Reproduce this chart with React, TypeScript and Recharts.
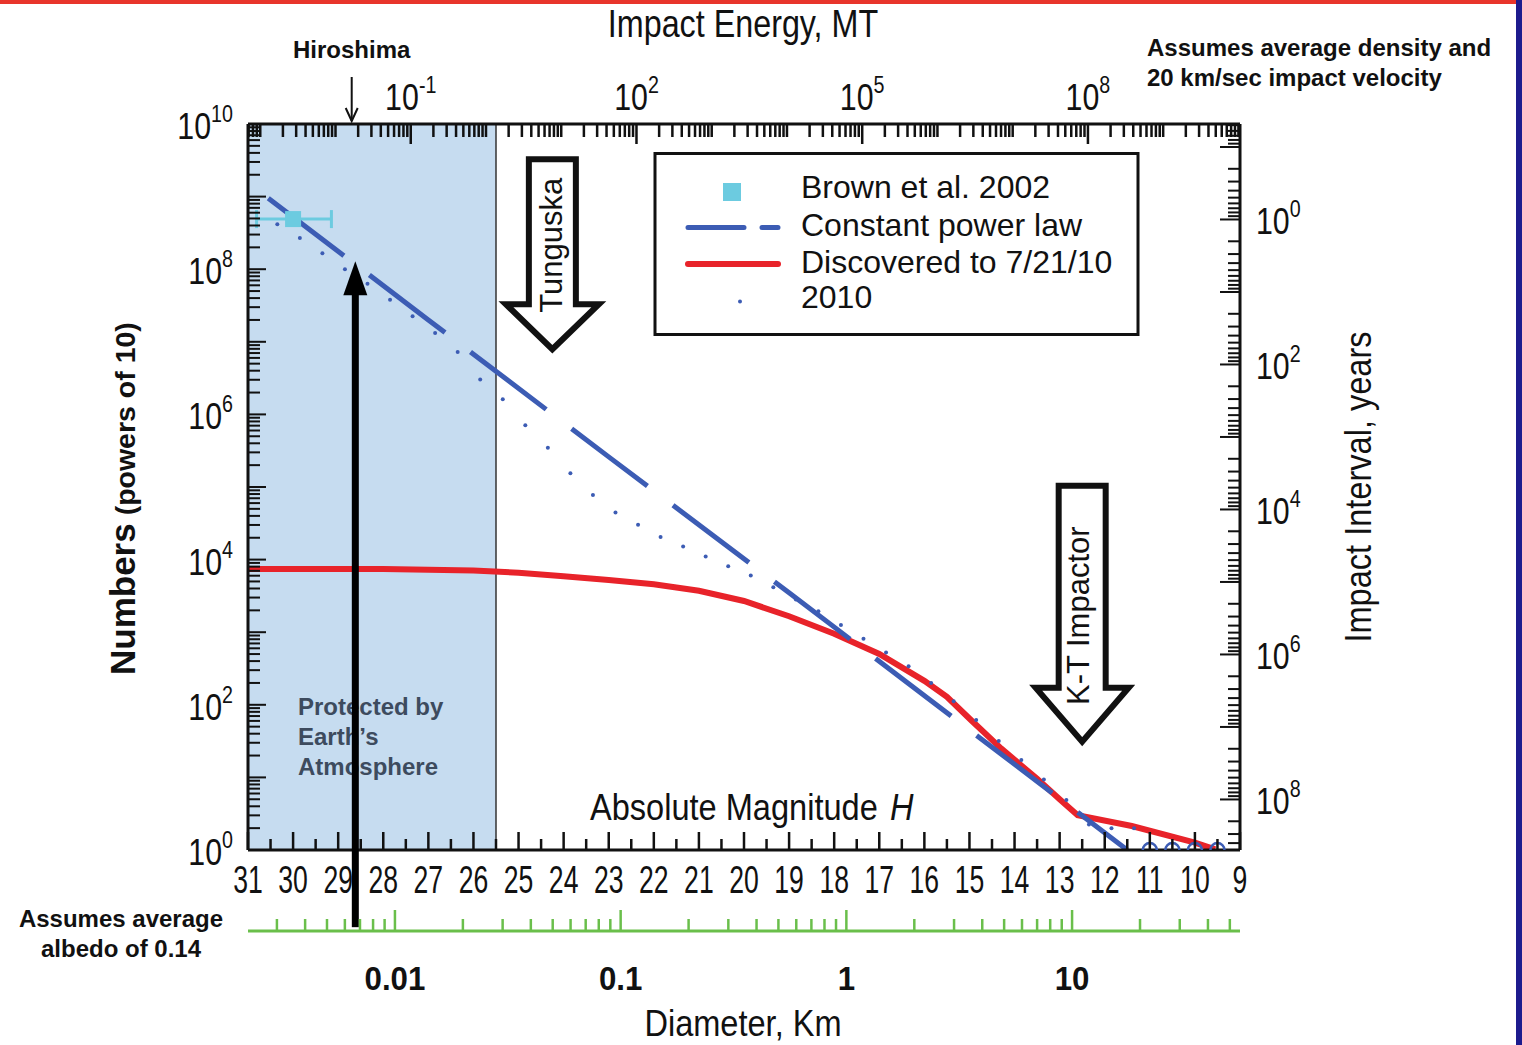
import React from 'react';
import {
  ComposedChart,
  Line,
  Scatter,
  XAxis,
  YAxis,
  ErrorBar,
  ReferenceArea,
  ReferenceLine,
  ReferenceDot,
} from 'recharts';

// absolute magnitude H (x) vs cumulative numbers N (y)
const powerLawH = [30.55, 27, 23, 19, 15, 11.5];
const powerLawN = [9.5e8, 2.0e7, 2.6e5, 3.5e3, 45, 1];

const discoveredH = [31, 28, 26, 25, 24, 23, 22, 21, 20, 19, 18, 17, 16, 15.5, 14.95, 14.3, 13.5, 13, 12.6, 11.4, 10, 9.55];
const discoveredN = [7400, 7400, 7080, 6610, 5890, 5250, 4570, 3720, 2690, 1660, 955, 501, 214, 129, 60.3, 25.1, 9.55, 5.01, 3.02, 2.14, 1.26, 1.02];

const survey2010H = [
  30.35, 29.85, 29.35, 28.85, 28.35, 27.85, 27.35, 26.85, 26.35, 25.85, 25.35, 24.85, 24.35,
  23.85, 23.35, 22.85, 22.35, 21.85, 21.35, 20.85, 20.35, 19.85, 19.35, 18.85, 18.35, 17.85,
  17.35, 16.85, 16.35, 15.85, 15.35, 14.85, 14.35, 13.85, 13.35, 12.85, 12.35, 11.85, 11.35,
];
const survey2010N = [
  4.17e8, 2.69e8, 1.66e8, 1.0e8, 6.31e7, 3.8e7, 2.24e7, 1.32e7, 7.24e6, 3.02e6, 1.62e6, 7.08e5, 3.47e5,
  1.55e5, 7.76e4, 4.47e4, 3.02e4, 2.04e4, 1.51e4, 1.1e4, 8130, 6030, 4170, 2820, 1950, 1260,
  813, 525, 339, 200, 112, 61.7, 31.6, 17.4, 9.33, 4.9, 2.24, 2.0, 2.0,
];

const brownH = [30];
const brownN = [4.9e8];
const brownErr = [[0.85, 0.81]];

const tailH = [11, 10.5, 10, 9.5];
const tailN = [1, 1, 1, 1];

// axis ranges / labels
const hDomain = [9, 31];
const hLabels = [31, 30, 29, 28, 27, 26, 25, 24, 23, 22, 21, 20, 19, 18, 17, 16, 15, 14, 13, 12, 11, 10, 9];
const countDomain = [1, 1e10];
const countExponents = [0, 2, 4, 6, 8, 10];
const intervalDomain = [0.0482, 4.98e8];
const intervalExponents = [0, 2, 4, 6, 8];
const energyDomain = [-3.163, 10.021]; // log10 MT
const energyExponents = [-1, 2, 5, 8];
const diameterDomain = [-2.651, 1.744]; // log10 km
const diameterLabels = ['0.01', '0.1', '1', '10'];
const shieldedH = [31, 25.5];

const SANS = "'Liberation Sans', Arial, Helvetica, sans-serif";
const INK = '#111';
const BLUE = '#3c5cb4';
const RED = '#e8232a';
const CYAN = '#6ccbe0';
const GREEN = '#6abf4b';

const zip = (xs: number[], ys: number[]) => xs.map((h, i) => ({ h, n: ys[i] }));
const powerLawData = zip(powerLawH, powerLawN);
const discoveredData = zip(discoveredH, discoveredN);
const survey2010Data = zip(survey2010H, survey2010N);
const tailData = zip(tailH, tailN);
const brownData = brownH.map((h, i) => ({ h, n: brownN[i], err: brownErr[i] }));
// span holders so the two secondary x axes get their ranges
const energySpan = energyDomain.map((e) => ({ e, n: countDomain[0] }));
const diameterSpan = diameterDomain.map((s) => ({ s, n: countDomain[0] }));

// tick positions
const hTicks: number[] = [];
for (let v = hDomain[0]; v <= hDomain[1]; v += 0.5) hTicks.push(v);

const logTicks = (lo: number, hi: number) => {
  const out: number[] = [];
  for (let d = Math.floor(Math.log10(lo)) - 1; d <= Math.ceil(Math.log10(hi)); d++) {
    for (let k = 1; k <= 9; k++) {
      const v = k * Math.pow(10, d);
      if (v >= lo * 0.999 && v <= hi * 1.001) out.push(v);
    }
  }
  return out;
};
const linLogTicks = (lo: number, hi: number) => {
  const out: number[] = [];
  for (let d = Math.floor(lo) - 1; d <= Math.ceil(hi); d++) {
    for (let k = 1; k <= 9; k++) {
      const v = d + Math.log10(k);
      if (v >= lo && v <= hi) out.push(v);
    }
  }
  return out;
};
const countTicks = logTicks(countDomain[0], countDomain[1]);
const intervalTicks = logTicks(intervalDomain[0], intervalDomain[1]);
const energyTicks = linLogTicks(energyDomain[0], energyDomain[1]);
const diameterTicks = linLogTicks(diameterDomain[0], diameterDomain[1]);

const isWhole = (v: number) => Math.abs(v - Math.round(v)) < 1e-6;

// condensed-looking text: regular font squeezed horizontally
const Cond = ({ x, y, sx = 0.8, size, anchor = 'start', rotate = 0, children, ...rest }: any) => (
  <text
    transform={`translate(${x},${y})${rotate ? ` rotate(${rotate})` : ''} scale(${sx},1)`}
    textAnchor={anchor}
    fontSize={size}
    fontFamily={SANS}
    fill={INK}
    {...rest}
  >
    {children}
  </text>
);

const Pow = ({ x, y, exp, anchor, sx = 0.82 }: any) => (
  <Cond x={x} y={y} sx={sx} size={37} anchor={anchor}>
    10
    <tspan dy={-17} fontSize={24}>
      {exp}
    </tspan>
  </Cond>
);

const HTick = ({ x, y, payload }: any) => {
  const v = payload.value;
  const major = Number.isInteger(v);
  return (
    <g>
      <line x1={x} x2={x} y1={y} y2={y - (major ? 18 : 11)} stroke={INK} strokeWidth={2.5} />
      {major && hLabels.includes(v) && (
        <Cond x={x} y={y + 43} sx={0.7} size={38} anchor="middle">
          {v}
        </Cond>
      )}
    </g>
  );
};

const DiameterTick = ({ x, y, payload }: any) => {
  const v = payload.value;
  const major = isWhole(v);
  const idx = Math.round(v) + 2;
  return (
    <g>
      <line x1={x} x2={x} y1={y} y2={y - (major ? 21 : 12)} stroke={GREEN} strokeWidth={2.5} />
      {major && diameterLabels[idx] && (
        <Cond x={x} y={y + 59} sx={0.92} size={34} anchor="middle" fontWeight="bold">
          {diameterLabels[idx]}
        </Cond>
      )}
    </g>
  );
};

const EnergyTick = ({ x, y, payload }: any) => {
  const v = payload.value;
  const labelled = isWhole(v) && energyExponents.includes(Math.round(v));
  return (
    <g>
      <line x1={x} x2={x} y1={y} y2={y + (labelled ? 20 : 13)} stroke={INK} strokeWidth={2.5} />
      {labelled && <Pow x={x} y={y - 14} exp={Math.round(v)} anchor="middle" />}
    </g>
  );
};

const CountTick = ({ x, y, payload }: any) => {
  const e = Math.log10(payload.value);
  const decade = isWhole(e);
  const labelled = decade && countExponents.includes(Math.round(e));
  return (
    <g>
      <line x1={x} x2={x + (decade ? 18 : 12)} y1={y} y2={y} stroke={INK} strokeWidth={2} />
      {labelled && <Pow x={x - 15} y={y + 15} exp={Math.round(e)} anchor="end" />}
    </g>
  );
};

const IntervalTick = ({ x, y, payload }: any) => {
  const e = Math.log10(payload.value);
  const decade = isWhole(e);
  const labelled = decade && intervalExponents.includes(Math.round(e));
  return (
    <g>
      <line x1={x} x2={x - (decade ? 20 : 12)} y1={y} y2={y} stroke={INK} strokeWidth={2} />
      {labelled && <Pow x={x + 16} y={y + 15} exp={Math.round(e)} anchor="start" />}
    </g>
  );
};

const ProtectedLabel = ({ viewBox }: any) => {
  const { x, y, height } = viewBox;
  const b = y + height;
  return (
    <text fontSize={24} fontWeight="bold" fontFamily={SANS} fill="#3d4b5e">
      <tspan x={x + 50} y={b - 135}>Protected by</tspan>
      <tspan x={x + 50} y={b - 105}>Earth’s</tspan>
      <tspan x={x + 50} y={b - 75}>Atmosphere</tspan>
    </text>
  );
};

const makeArrow = (stemTop: number, headBase: number, text: string, textMid: number, textShift: number) =>
  function ArrowShape({ cx, cy }: any) {
    const sw = 23.5;
    const hw = 46.5;
    const d = `M${cx - sw},${cy - stemTop} L${cx + sw},${cy - stemTop} L${cx + sw},${cy - headBase} L${cx + hw},${cy - headBase} L${cx},${cy} L${cx - hw},${cy - headBase} L${cx - sw},${cy - headBase} Z`;
    return (
      <g>
        <path d={d} fill="#fff" stroke={INK} strokeWidth={6} strokeLinejoin="miter" />
        <text
          transform={`translate(${cx + textShift},${cy - textMid}) rotate(-90)`}
          textAnchor="middle"
          fontSize={31}
          fontFamily={SANS}
          fill={INK}
        >
          {text}
        </text>
      </g>
    );
  };

const TunguskaArrow = makeArrow(190, 45, 'Tunguska', 104, 10);
const KTArrow = makeArrow(256, 54, 'K-T Impactor', 126, 7);

const HiroshimaMark = ({ cx, cy }: any) => (
  <g>
    <line x1={cx} x2={cx} y1={cy - 47} y2={cy - 3} stroke={INK} strokeWidth={2} />
    <polyline points={`${cx - 6},${cy - 16} ${cx},${cy - 3} ${cx + 6},${cy - 16}`} fill="none" stroke={INK} strokeWidth={2} />
    <text x={cx} y={cy - 66} textAnchor="middle" fontSize={24} fontWeight="bold" fontFamily={SANS} fill={INK}>
      Hiroshima
    </text>
  </g>
);

const BigArrow = ({ cx, cy }: any) => (
  <g>
    <polygon points={`${cx},${cy} ${cx - 12},${cy + 34} ${cx + 12},${cy + 34}`} fill="#000" />
    <rect x={cx - 3.5} y={cy + 30} width={7} height={636} fill="#000" />
  </g>
);

const BrownSquare = ({ cx, cy }: any) => <rect x={cx - 8} y={cy - 8} width={16} height={16} fill={CYAN} />;
const SurveyDot = ({ cx, cy }: any) => <circle cx={cx} cy={cy} r={2} fill={BLUE} />;
const TailRing = ({ cx, cy }: any) => <circle cx={cx} cy={cy} r={7} fill="none" stroke={BLUE} strokeWidth={2.5} />;
const Nothing = () => <g />;

const Overlay = () => (
  <svg width={1522} height={1045} style={{ position: 'absolute', left: 0, top: 0, pointerEvents: 'none' }}>
    <rect x={0} y={0} width={1517} height={4} fill="#e8352b" />
    <rect x={1516} y={0} width={6} height={1045} fill="#1d1b8e" />
    <Cond x={743} y={37} sx={0.85} size={38} anchor="middle">
      Impact Energy, MT
    </Cond>
    <text fontSize={24} fontWeight="bold" fontFamily={SANS} fill={INK}>
      <tspan x={1147} y={56}>Assumes average density and</tspan>
      <tspan x={1147} y={86}>20 km/sec impact velocity</tspan>
    </text>
    <text transform="translate(135,675) rotate(-90)" fontWeight="bold" fontFamily={SANS} fill={INK}>
      <tspan fontSize={35}>Numbers</tspan>
      <tspan fontSize={28.5}> (powers of 10)</tspan>
    </text>
    <Cond x={1371} y={487} rotate={-90} sx={0.88} size={37} anchor="middle">
      Impact Interval, years
    </Cond>
    <text fontSize={24} fontWeight="bold" fontFamily={SANS} fill={INK} textAnchor="middle">
      <tspan x={121} y={927}>Assumes average</tspan>
      <tspan x={121} y={957}>albedo of 0.14</tspan>
    </text>
    <Cond x={743} y={1036} sx={0.88} size={37} anchor="middle">
      Diameter, Km
    </Cond>
    <Cond x={590} y={820} sx={0.88} size={37}>
      Absolute Magnitude
      <tspan dx={14} fontStyle="italic">H</tspan>
    </Cond>
    {/* legend */}
    <rect x={655} y={153.5} width={483} height={181} fill="#fff" stroke={INK} strokeWidth={3} />
    <rect x={723} y={183} width={18} height={18} fill={CYAN} />
    <line x1={688} x2={778} y1={227.5} y2={227.5} stroke={BLUE} strokeWidth={5} strokeLinecap="round" strokeDasharray="56 18 16 100" />
    <line x1={688} x2={778} y1={264} y2={264} stroke={RED} strokeWidth={6} strokeLinecap="round" />
    <circle cx={740} cy={301.5} r={2} fill={BLUE} />
    <text fontSize={32} fontFamily={SANS} fill={INK}>
      <tspan x={801} y={198}>Brown et al. 2002</tspan>
      <tspan x={801} y={236}>Constant power law</tspan>
      <tspan x={801} y={273}>Discovered to 7/21/10</tspan>
      <tspan x={801} y={308}>2010</tspan>
    </text>
  </svg>
);

export default function App() {
  return (
    <div style={{ position: 'absolute', left: 0, top: 0, width: 1522, height: 1045, background: '#fff' }}>
      <ComposedChart width={1522} height={1045} margin={{ top: 0, right: 0, bottom: 0, left: 0 }}>
        <XAxis
          xAxisId="h"
          dataKey="h"
          type="number"
          orientation="bottom"
          domain={hDomain}
          reversed
          allowDataOverflow
          ticks={hTicks}
          interval={0}
          tickSize={0}
          tickMargin={0}
          tickLine={false}
          tick={(p: any) => <HTick {...p} />}
          axisLine={{ stroke: INK, strokeWidth: 3 }}
          height={81}
        />
        <XAxis
          xAxisId="s"
          dataKey="s"
          type="number"
          orientation="bottom"
          domain={diameterDomain}
          allowDataOverflow
          ticks={diameterTicks}
          interval={0}
          tickSize={0}
          tickMargin={0}
          tickLine={false}
          tick={(p: any) => <DiameterTick {...p} />}
          axisLine={{ stroke: GREEN, strokeWidth: 3 }}
          height={114}
        />
        <XAxis
          xAxisId="e"
          dataKey="e"
          type="number"
          orientation="top"
          domain={energyDomain}
          allowDataOverflow
          ticks={energyTicks}
          interval={0}
          tickSize={0}
          tickMargin={0}
          tickLine={false}
          tick={(p: any) => <EnergyTick {...p} />}
          axisLine={{ stroke: INK, strokeWidth: 3 }}
          height={124}
        />
        <YAxis
          yAxisId="n"
          scale="log"
          domain={countDomain}
          allowDataOverflow
          ticks={countTicks}
          interval={0}
          tickSize={0}
          tickMargin={0}
          tickLine={false}
          tick={(p: any) => <CountTick {...p} />}
          axisLine={{ stroke: INK, strokeWidth: 3 }}
          width={248}
        />
        <YAxis
          yAxisId="t"
          orientation="right"
          scale="log"
          domain={intervalDomain}
          reversed
          allowDataOverflow
          ticks={intervalTicks}
          interval={0}
          tickSize={0}
          tickMargin={0}
          tickLine={false}
          tick={(p: any) => <IntervalTick {...p} />}
          axisLine={{ stroke: INK, strokeWidth: 3 }}
          width={282}
        />

        <ReferenceArea
          xAxisId="h"
          yAxisId="n"
          x1={shieldedH[0]}
          x2={shieldedH[1]}
          y1={countDomain[0]}
          y2={countDomain[1]}
          fill="#c6dcf0"
          fillOpacity={1}
          stroke="none"
          label={<ProtectedLabel />}
        />
        <ReferenceLine xAxisId="h" yAxisId="n" x={shieldedH[1]} stroke="#333" strokeWidth={1.5} />

        <Scatter xAxisId="e" yAxisId="n" data={energySpan} dataKey="n" shape={Nothing} isAnimationActive={false} legendType="none" />
        <Scatter xAxisId="s" yAxisId="n" data={diameterSpan} dataKey="n" shape={Nothing} isAnimationActive={false} legendType="none" />

        <Line
          xAxisId="h"
          yAxisId="n"
          data={discoveredData}
          dataKey="n"
          type="linear"
          stroke={RED}
          strokeWidth={6}
          dot={false}
          activeDot={false}
          isAnimationActive={false}
        />
        <Scatter xAxisId="h" yAxisId="n" data={brownData} dataKey="n" shape={BrownSquare} isAnimationActive={false}>
          <ErrorBar dataKey="err" direction="x" width={9} stroke={CYAN} strokeWidth={3} isAnimationActive={false} />
        </Scatter>
        <Line
          xAxisId="h"
          yAxisId="n"
          data={powerLawData}
          dataKey="n"
          type="linear"
          stroke={BLUE}
          strokeWidth={5}
          strokeDasharray="95 32"
          dot={false}
          activeDot={false}
          isAnimationActive={false}
        />
        <Scatter xAxisId="h" yAxisId="n" data={survey2010Data} dataKey="n" shape={SurveyDot} isAnimationActive={false} />
        <Scatter xAxisId="h" yAxisId="n" data={tailData} dataKey="n" shape={TailRing} isAnimationActive={false} />

        <ReferenceDot xAxisId="h" yAxisId="n" x={24.25} y={7.9e6} ifOverflow="visible" shape={TunguskaArrow} />
        <ReferenceDot xAxisId="h" yAxisId="n" x={12.5} y={31} ifOverflow="visible" shape={KTArrow} />
        <ReferenceDot xAxisId="h" yAxisId="n" x={28.7} y={1e10} ifOverflow="visible" shape={HiroshimaMark} />
        <ReferenceDot xAxisId="h" yAxisId="n" x={28.62} y={1.29e8} ifOverflow="visible" shape={BigArrow} />
      </ComposedChart>
      <Overlay />
    </div>
  );
}
